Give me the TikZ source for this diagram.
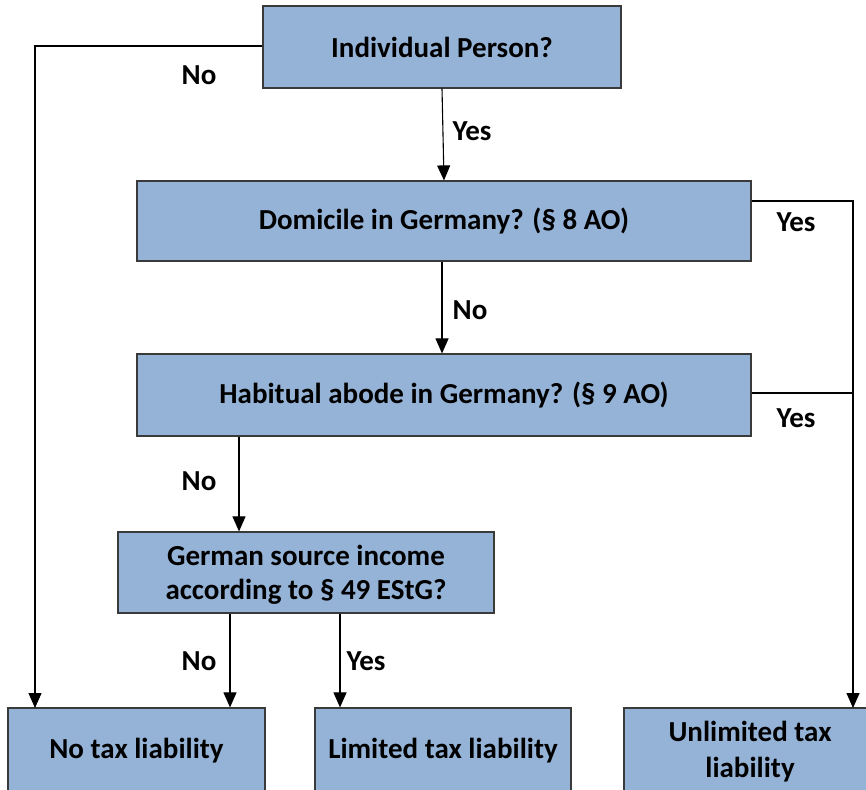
\documentclass[tikz,border=0pt]{standalone}
\usepackage{fontspec}
\setmainfont{Carlito}
\usetikzlibrary{arrows.meta}
\definecolor{boxfill}{HTML}{95B3D7}
\definecolor{boxline}{HTML}{3A3A3A}
\tikzset{
  qbox/.style={draw=boxline, line width=1.2pt, fill=boxfill, inner sep=0pt, align=center, font=\fontsize{29}{34}\selectfont\bfseries},
  conn/.style={draw=black, line width=1.1pt},
  arr/.style={conn, -{Triangle[width=13pt,length=15pt]}},
  lbl/.style={font=\fontsize{29}{34}\selectfont\bfseries, inner sep=0pt, align=center}
}
\begin{document}
\begin{tikzpicture}[x=1pt,y=-1pt]
\useasboundingbox (0,0) rectangle (866,789);
\clip (0,0) rectangle (866,789);
\node[qbox, minimum width=358pt, minimum height=82pt] (ind) at (442,47) {Individual Person?};
\node[qbox, minimum width=614pt, minimum height=80pt] (dom) at (444,221) {Domicile in Germany? (§ 8 AO)};
\node[qbox, minimum width=614pt, minimum height=82pt] (hab) at (444,395) {Habitual abode in Germany? (§ 9 AO)};
\node[qbox, minimum width=376pt, minimum height=81pt] (src) at (306,572.5) {};
\node[lbl] (tsrc) at (306,575) {German source income\\according to § 49 EStG?};
\node[qbox, minimum width=257pt, minimum height=90pt] (none) at (136.5,753) {};
\node[qbox, minimum width=256pt, minimum height=90pt] (lim) at (443,753) {};
\node[qbox, minimum width=250pt, minimum height=90pt] (unl) at (749,753) {};
\node[lbl] (tnone) at (136.5,751) {No tax liability};
\node[lbl] (tlim) at (443,751) {Limited tax liability};
\node[lbl, font=\fontsize{29}{36}\selectfont\bfseries] (tunl) at (750,752) {Unlimited tax\\liability};
\coordinate (c1) at (35,46);
\coordinate (c2) at (853,201);
\draw[arr] (ind.west |- 0,46) -- (c1) -- (35,708);
\draw[arr] (ind.south) -- (dom.north);
\draw[arr] (dom.east |- 0,201) -- (c2) -- (853,708);
\draw[arr] (dom.south -| 442,0) -- (hab.north -| 442,0);
\draw[conn] (hab.east |- 0,393) -- (853,393);
\draw[arr] (hab.south -| 239,0) -- (src.north -| 239,0);
\draw[arr] (src.south -| 230,0) -- (none.north -| 230,0);
\draw[arr] (src.south -| 340,0) -- (lim.north -| 340,0);
\node[lbl] (l1) at (199,75) {No};
\node[lbl] (l2) at (472,131) {Yes};
\node[lbl] (l3) at (796,222) {Yes};
\node[lbl] (l4) at (470,310) {No};
\node[lbl] (l5) at (796,418) {Yes};
\node[lbl] (l6) at (199,481) {No};
\node[lbl] (l7) at (199,661) {No};
\node[lbl] (l8) at (366,661) {Yes};
\end{tikzpicture}
\end{document}
